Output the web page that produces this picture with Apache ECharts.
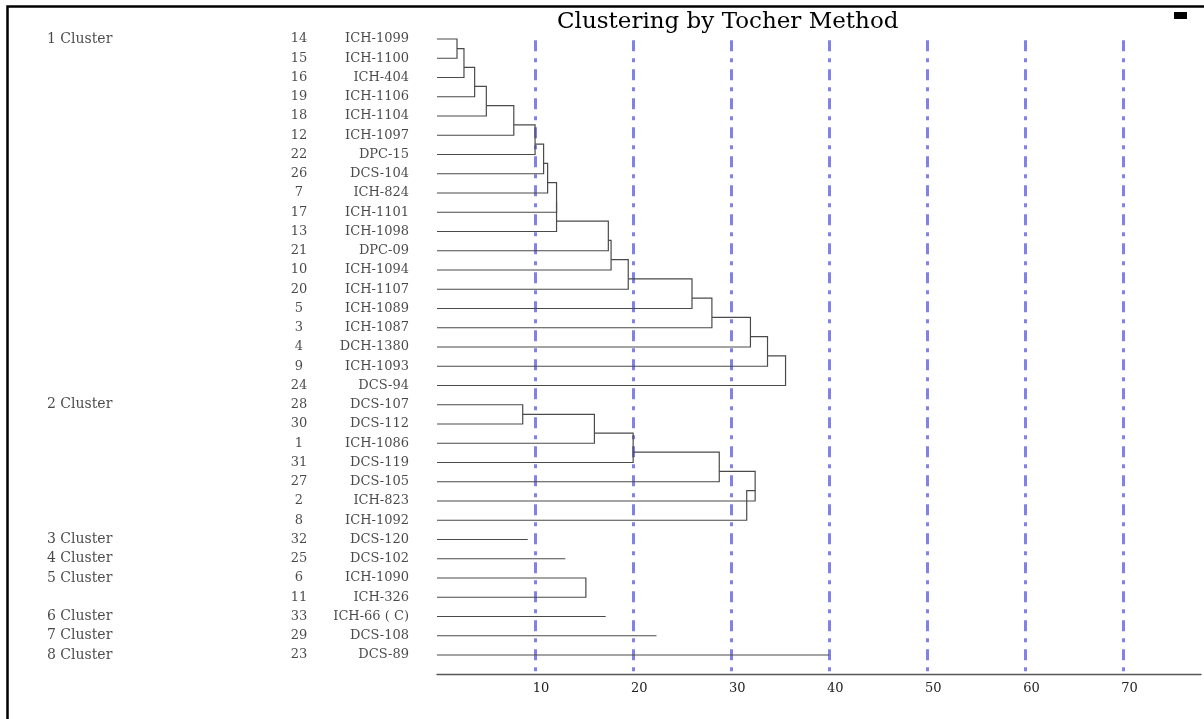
<!DOCTYPE html>
<html>
<head>
<meta charset="utf-8">
<title>Clustering by Tocher Method</title>
<script src="https://cdn.jsdelivr.net/npm/echarts@6/dist/echarts.min.js"></script>
<style>
  html, body { margin: 0; padding: 0; background: #fff; }
  #chart { width: 1204px; height: 719px; }
</style>
</head>
<body>
<div id="chart"></div>
<script>
// cluster labels and how many genotypes each cluster holds (top to bottom)
const clusterLabels = ['1 Cluster', '2 Cluster', '3 Cluster', '4 Cluster', '5 Cluster', '6 Cluster', '7 Cluster', '8 Cluster'];
const clusterSizes = [19, 7, 1, 1, 2, 1, 1, 1];

// genotype serial numbers and names, in drawing order
const genotypeNo = [14, 15, 16, 19, 18, 12, 22, 26, 7, 17, 13, 21, 10, 20, 5, 3, 4, 9, 24,
  28, 30, 1, 31, 27, 2, 8,
  32, 25, 6, 11, 33, 29, 23];
const genotypeName = ['ICH-1099', 'ICH-1100', 'ICH-404', 'ICH-1106', 'ICH-1104', 'ICH-1097', 'DPC-15',
  'DCS-104', 'ICH-824', 'ICH-1101', 'ICH-1098', 'DPC-09', 'ICH-1094', 'ICH-1107', 'ICH-1089',
  'ICH-1087', 'DCH-1380', 'ICH-1093', 'DCS-94',
  'DCS-107', 'DCS-112', 'ICH-1086', 'DCS-119', 'DCS-105', 'ICH-823', 'ICH-1092',
  'DCS-120', 'DCS-102', 'ICH-1090', 'ICH-326', 'ICH-66 ( C)', 'DCS-108', 'DCS-89'];

// distance at which each next genotype joins its cluster
// (a single-genotype cluster keeps one value: the length of its line)
const joinHeights = [
  [2.04, 2.75, 3.84, 5.03, 7.83, 10.0, 10.87, 11.28, 12.19, 12.19, 17.47, 17.75, 19.5, 26.0, 28.03, 31.96, 33.7, 35.54],
  [8.74, 16.05, 20.0, 28.78, 32.44, 31.58],
  [9.25],
  [13.08],
  [15.18],
  [17.2],
  [22.38],
  [40.0]
];

// x axis tick labels
const distanceTicks = [10, 20, 30, 40, 50, 60, 70];

const serif = 'DejaVu Serif';
const NODE_SHIFT = 0.65; // how far a merged node sits towards the newly joined row

/**
 * build the dendrogram polylines (in data units: x = distance, y = row)
 */
const buildLinks = () => {
  const links = [];
  let row = 1;
  clusterSizes.forEach((size, ci) => {
    const joins = joinHeights[ci];
    if (size === 1) {
      links.push({ coords: [[0, row], [joins[0], row]] });
    } else {
      let nodeY = row;
      let prevH = 0;
      for (let k = 1; k < size; k++) {
        const leafY = row + k;
        const h = joins[k - 1];
        if (k === 1) {
          links.push({ coords: [[0, nodeY], [h, nodeY], [h, leafY], [0, leafY]] });
          nodeY = (nodeY + leafY) / 2;
        } else {
          links.push({ coords: [[prevH, nodeY], [h, nodeY], [h, leafY], [0, leafY]] });
          nodeY = nodeY + NODE_SHIFT * (leafY - nodeY);
        }
        prevH = h;
      }
    }
    row += size;
  });
  return links;
};

// first row of every cluster gets the cluster label
const clusterAtRow = {};
let startRow = 0;
clusterSizes.forEach((size, ci) => {
  clusterAtRow[startRow] = clusterLabels[ci];
  startRow += size;
});

const labelPoints = genotypeNo.map((no, i) => [0, i + 1]);

const chart = echarts.init(document.getElementById('chart'));

const option = {
  backgroundColor: '#fff',
  animation: false,
  title: {
    text: 'Clustering by Tocher Method',
    left: 557,
    top: 11,
    padding: 0,
    textStyle: {
      fontFamily: serif,
      fontSize: 23,
      fontWeight: 'normal',
      color: '#000',
    },
  },
  graphic: [
    {
      type: 'rect',
      left: 5,
      top: 4,
      shape: { width: 1220, height: 740 },
      style: { fill: 'none', stroke: '#000', lineWidth: 2.5 },
      silent: true,
    },
    {
      type: 'rect',
      left: 1174,
      top: 12,
      shape: { width: 13, height: 7 },
      style: { fill: '#000' },
      silent: true,
    },
  ],
  grid: {
    left: 437,
    right: 0,
    top: 33.2,
    bottom: 44.75,
  },
  xAxis: {
    type: 'value',
    min: 0,
    max: 77.9,
    interval: 10,
    axisLine: { show: true, lineStyle: { color: '#555', width: 1.3 } },
    axisTick: { show: false },
    axisLabel: {
      margin: 8,
      padding: [0, 0, 0, 12],
      fontFamily: serif,
      fontSize: 13,
      color: '#222',
      formatter: (v) => (distanceTicks.includes(v) ? String(v) : ''),
    },
    splitLine: {
      show: true,
      showMinLine: false,
      showMaxLine: false,
      lineStyle: {
        color: '#8282e6',
        width: 3,
        type: [11, 7, 4, 7],
        dashOffset: 22,
      },
    },
  },
  yAxis: {
    type: 'value',
    min: 0.7,
    max: 34,
    inverse: true,
    show: false,
    splitLine: { show: false },
  },
  series: [
    {
      type: 'lines',
      coordinateSystem: 'cartesian2d',
      polyline: true,
      silent: true,
      lineStyle: { color: '#4a4a4a', width: 1.2, opacity: 1 },
      data: buildLinks(),
    },
    {
      type: 'scatter',
      symbolSize: 0,
      silent: true,
      data: labelPoints,
      label: {
        show: true,
        position: 'left',
        distance: 28,
        fontFamily: serif,
        color: '#1a1a1a',
        formatter: (p) => {
          const c = clusterAtRow[p.dataIndex] || ' ';
          return '{c|' + c + '}{n|' + genotypeNo[p.dataIndex] + '}{m|' + genotypeName[p.dataIndex] + '}';
        },
        rich: {
          c: { width: 237, align: 'left', fontFamily: serif, fontSize: 14, color: '#1a1a1a' },
          n: { width: 30, align: 'center', fontFamily: serif, fontSize: 13, color: '#1a1a1a' },
          m: { width: 95, align: 'right', fontFamily: serif, fontSize: 13, color: '#1a1a1a' },
        },
      },
    },
  ],
};

chart.setOption(option);

window.addEventListener('resize', () => chart.resize());
</script>
</body>
</html>
